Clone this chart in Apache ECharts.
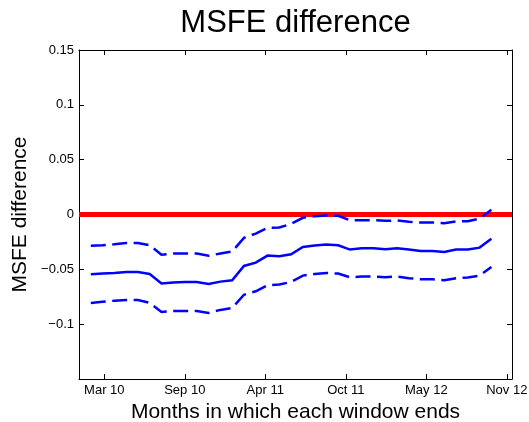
<!DOCTYPE html>
<html>
<head>
<meta charset="utf-8">
<script src="https://cdn.jsdelivr.net/npm/echarts@6/dist/echarts.min.js"></script>
<style>
  html, body { margin: 0; padding: 0; background: #fff; overflow: hidden; }
  #chart { width: 529px; height: 422px; }
</style>
</head>
<body>
<div id="chart"></div>
<script>
// Rolling-window MSFE difference with its confidence band (one value per window)
const msfeDiff = [
  -0.0545, -0.0539, -0.0533, -0.0524, -0.0524, -0.0542, -0.0628, -0.0619, -0.0615, -0.0615,
  -0.0634, -0.0612, -0.0600, -0.0469, -0.0439, -0.0375, -0.0381, -0.0363, -0.0296, -0.0283,
  -0.0274, -0.0280, -0.0320, -0.0308, -0.0308, -0.0317, -0.0308, -0.0320, -0.0332, -0.0332,
  -0.0341, -0.0320, -0.0320, -0.0302, -0.0222
];
const upperBand = [
  -0.0286, -0.0280, -0.0271, -0.0259, -0.0259, -0.0280, -0.0366, -0.0356, -0.0356, -0.0356,
  -0.0375, -0.0356, -0.0338, -0.0213, -0.0174, -0.0122, -0.0119, -0.0085, -0.0030, -0.0015,
  -0.0009, -0.0012, -0.0052, -0.0052, -0.0052, -0.0058, -0.0055, -0.0067, -0.0073, -0.0073,
  -0.0079, -0.0064, -0.0061, -0.0037, 0.0043
];
const lowerBand = [
  -0.0806, -0.0795, -0.0786, -0.0779, -0.0779, -0.0806, -0.0888, -0.0879, -0.0879, -0.0879,
  -0.0897, -0.0870, -0.0852, -0.0732, -0.0700, -0.0645, -0.0639, -0.0615, -0.0557, -0.0542,
  -0.0533, -0.0539, -0.0572, -0.0566, -0.0566, -0.0572, -0.0566, -0.0581, -0.0590, -0.0590,
  -0.0600, -0.0581, -0.0575, -0.0557, -0.0478
];

// Axis extents and ticks
const xMin = 0;
const xMax = 36.75;
const xTickPositions = [2.15, 8.98, 15.81, 22.65, 29.48, 36.31];
const xTickLabels = ['Mar 10', 'Sep 10', 'Apr 11', 'Oct 11', 'May 12', 'Nov 12'];
const yTicks = [-0.15, -0.1, -0.05, 0, 0.05, 0.1, 0.15];
const yTickLabels = ['', '\u22120.1', '\u22120.05', '0', '0.05', '0.1', '0.15'];
const zeroLevel = 0;

const FONT = 'Liberation Sans, Arial, Helvetica, sans-serif';
const toPoints = arr => arr.map((v, i) => [i + 1, v]);

// Plot box in pixels
const GRID = { left: 79, right: 17, top: 50, bottom: 43 };
const plotCenterX = GRID.left + (529 - GRID.left - GRID.right) / 2;

const chart = echarts.init(document.getElementById('chart'), null, { renderer: 'canvas' });

const axisLineStyle = { color: '#000', width: 1 };
const baseX = {
  type: 'value', min: xMin, max: xMax,
  axisLine: { show: true, onZero: false, lineStyle: axisLineStyle },
  axisTick: { show: true, inside: true, length: 5, customValues: xTickPositions, lineStyle: axisLineStyle },
  splitLine: { show: false }
};
const baseY = {
  type: 'value', min: -0.15, max: 0.15,
  axisLine: { show: true, onZero: false, lineStyle: axisLineStyle },
  axisTick: { show: true, inside: true, length: 5, customValues: yTicks, lineStyle: axisLineStyle },
  splitLine: { show: false }
};

const bandStyle = { color: '#0000ff', width: 2.5, type: [15, 6.5], cap: 'butt', join: 'miter' };

chart.setOption({
  animation: false,
  backgroundColor: '#fff',
  graphic: [{
    type: 'text',
    x: plotCenterX,
    y: 23.5,
    silent: true,
    style: {
      text: 'MSFE difference',
      fontFamily: FONT, fontSize: 31, fill: '#000',
      textAlign: 'center', textVerticalAlign: 'middle'
    }
  }],
  grid: Object.assign({ containLabel: false, outerBoundsMode: 'none' }, GRID),
  xAxis: [
    Object.assign({}, baseX, {
      position: 'bottom',
      name: 'Months in which each window ends',
      nameLocation: 'middle',
      nameGap: 19,
      nameTextStyle: { fontFamily: FONT, fontSize: 21, color: '#000' },
      axisLabel: {
        show: true, margin: 5, customValues: xTickPositions,
        fontFamily: FONT, fontSize: 13, color: '#000',
        formatter: v => {
          const k = xTickPositions.findIndex(p => Math.abs(p - v) < 1e-6);
          return k >= 0 ? xTickLabels[k] : '';
        }
      }
    }),
    Object.assign({}, baseX, { position: 'top', axisLabel: { show: false } })
  ],
  yAxis: [
    Object.assign({}, baseY, {
      position: 'left',
      name: 'MSFE difference',
      nameLocation: 'middle',
      nameGap: 34,
      nameTextStyle: { fontFamily: FONT, fontSize: 21, color: '#000' },
      axisLabel: {
        show: true, margin: 5, customValues: yTicks,
        fontFamily: FONT, fontSize: 13, color: '#000',
        formatter: v => {
          const k = yTicks.findIndex(t => Math.abs(t - v) < 1e-9);
          return k >= 0 ? yTickLabels[k] : '';
        }
      }
    }),
    Object.assign({}, baseY, { position: 'right', axisLabel: { show: false } })
  ],
  series: [
    {
      type: 'line', name: 'zero', silent: true, symbol: 'none',
      data: [[xMin, zeroLevel], [xMax, zeroLevel]],
      lineStyle: { color: '#ff0000', width: 5, cap: 'butt' }, z: 1
    },
    {
      type: 'line', name: 'upper', silent: true, symbol: 'none',
      data: toPoints(upperBand), lineStyle: bandStyle, z: 2
    },
    {
      type: 'line', name: 'MSFE difference', silent: true, symbol: 'none',
      data: toPoints(msfeDiff),
      lineStyle: { color: '#0000ff', width: 2.5, type: 'solid', join: 'miter' }, z: 2
    },
    {
      type: 'line', name: 'lower', silent: true, symbol: 'none',
      data: toPoints(lowerBand), lineStyle: bandStyle, z: 2
    }
  ]
});
</script>
</body>
</html>
